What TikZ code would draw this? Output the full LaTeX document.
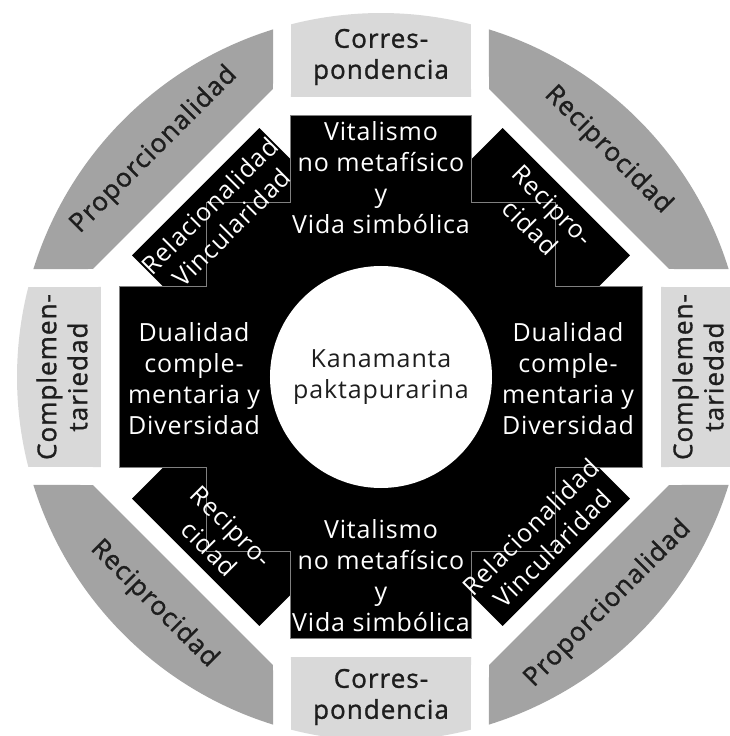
\documentclass[tikz,border=0pt]{standalone}
\usepackage{fontspec}
\setmainfont{Open Sans}[LetterSpace=3.5]
\newfontfamily\ringfont{Open Sans}[LetterSpace=4, BoldFont={Open Sans}, BoldFeatures={FakeBold=1.2}]
\definecolor{ringlight}{HTML}{D9D9D9}
\definecolor{ringdark}{HTML}{A3A3A3}
\definecolor{edgegray}{HTML}{808080}
\definecolor{ink}{HTML}{1E1E1E}
\tikzset{
  lightseg/.style={fill=ringlight, draw=none},
  darkseg/.style={fill=ringdark, draw=none},
  ringtext/.style={align=center, text=ink, inner sep=0pt, font=\ringfont\bfseries\fontsize{26}{31}\selectfont},
  hubtext/.style={align=center, text=ink, inner sep=0pt, font=\fontsize{25}{31}\selectfont},
  armtext/.style={align=center, text=white, inner sep=0pt, font=\fontsize{25}{31}\selectfont},
}
\begin{document}
\begin{tikzpicture}[x=1pt,y=1pt]
\useasboundingbox (-381,-359) rectangle (348,377);
\draw[lightseg] (-90,280) -- (90,280) -- ({acos(90/364)}:364) arc[start angle={acos(90/364)}, end angle={180-acos(90/364)}, radius=364] -- cycle;
\draw[lightseg, rotate=90] (-90,280) -- (90,280) -- ({acos(90/364)}:364) arc[start angle={acos(90/364)}, end angle={180-acos(90/364)}, radius=364] -- cycle;
\draw[lightseg, rotate=180] (-90,280) -- (90,280) -- ({acos(90/364)}:364) arc[start angle={acos(90/364)}, end angle={180-acos(90/364)}, radius=364] -- cycle;
\draw[lightseg, rotate=270] (-90,280) -- (90,280) -- ({acos(90/364)}:364) arc[start angle={acos(90/364)}, end angle={180-acos(90/364)}, radius=364] -- cycle;
\draw[darkseg] (108,288) -- ({acos(108/364)}:364) arc[start angle={acos(108/364)}, end angle={asin(108/364)}, radius=364] -- (288,108) -- cycle;
\draw[darkseg, rotate=90] (108,288) -- ({acos(108/364)}:364) arc[start angle={acos(108/364)}, end angle={asin(108/364)}, radius=364] -- (288,108) -- cycle;
\draw[darkseg, rotate=180] (108,288) -- ({acos(108/364)}:364) arc[start angle={acos(108/364)}, end angle={asin(108/364)}, radius=364] -- (288,108) -- cycle;
\draw[darkseg, rotate=270] (108,288) -- ({acos(108/364)}:364) arc[start angle={acos(108/364)}, end angle={asin(108/364)}, radius=364] -- (288,108) -- cycle;
\fill[black, rotate=45] (0,-90) rectangle (262,90);
\fill[black, rotate=135] (0,-90) rectangle (262,90);
\fill[black, rotate=225] (0,-90) rectangle (262,90);
\fill[black, rotate=315] (0,-90) rectangle (262,90);
\draw[fill=black, draw=edgegray, line width=1pt] (-90,261) -- (90,261) -- (90,174) -- (174,174) -- (174,90) -- (261,90) -- (261,-90) -- (174,-90) -- (174,-174) -- (90,-174) -- (90,-261) -- (-90,-261) -- (-90,-174) -- (-174,-174) -- (-174,-90) -- (-261,-90) -- (-261,90) -- (-174,90) -- (-174,174) -- (-90,174) -- cycle;
\node[circle, fill=white, minimum size=222pt, hubtext] (kana) at (0,0) {Kanamanta\\paktapurarina};
\node[armtext] (vitaN) at (0,199) {Vitalismo\\no metafísico\\y\\Vida simbólica};
\node[armtext] (vitaS) at (0,-199) {Vitalismo\\no metafísico\\y\\Vida simbólica};
\node[armtext] (dualW) at (-187,-2) {Dualidad\\comple-\\mentaria y\\Diversidad};
\node[armtext] (dualE) at (187,-2) {Dualidad\\comple-\\mentaria y\\Diversidad};
\node[armtext, rotate=45] (relNW) at (135:227) {Relacionalidad\\Vincularidad};
\node[armtext, rotate=45] (relSE) at (-45:227) {Relacionalidad\\Vincularidad};
\node[armtext, rotate=-45] (recNE) at (45:227) {Recipro-\\cidad};
\node[armtext, rotate=-45] (recSW) at (225:227) {Recipro-\\cidad};
\node[ringtext] (corN) at (0,320) {Corres-\\pondencia};
\node[ringtext] (corS) at (0,-320) {Corres-\\pondencia};
\node[ringtext, rotate=90] (comW) at (-319,0) {Complemen-\\tariedad};
\node[ringtext, rotate=90] (comE) at (317,0) {Complemen-\\tariedad};
\node[ringtext, rotate=45] (proNW) at (135:321) {Proporcionalidad};
\node[ringtext, rotate=45] (proSE) at (-45:321) {Proporcionalidad};
\node[ringtext, rotate=-45] (rcpNE) at (45:321) {Reciprocidad};
\node[ringtext, rotate=-45] (rcpSW) at (225:321) {Reciprocidad};
\end{tikzpicture}
\end{document}
